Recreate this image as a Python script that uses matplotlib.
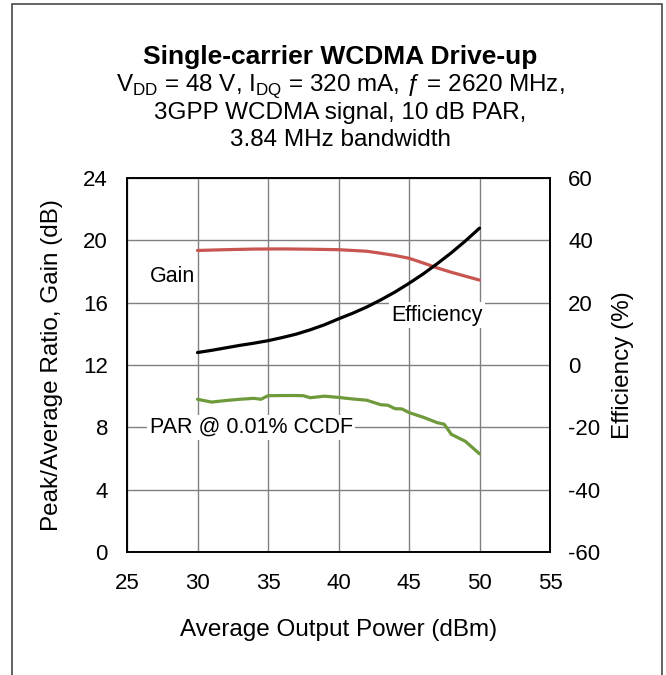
import numpy as np
import matplotlib.pyplot as plt
from matplotlib.patches import Rectangle

plt.rcParams['font.family'] = ['Liberation Sans', 'DejaVu Sans']
plt.rcParams['mathtext.fontset'] = 'custom'
plt.rcParams['mathtext.rm'] = 'Liberation Sans'
plt.rcParams['axes.unicode_minus'] = False

# Gain (dB) vs average output power (dBm)
gain_x = [30, 32, 34, 36, 38, 40, 41, 42, 43, 44, 45, 46, 47, 48, 49, 50]
gain_y = [19.35, 19.4, 19.44, 19.45, 19.43, 19.4, 19.35, 19.3, 19.17, 19.03, 18.85, 18.55,
          18.23, 17.95, 17.7, 17.45]

# Efficiency (%) on the right axis
eff_x = [30, 31, 32, 33, 34, 35, 36, 37, 38, 39, 40, 41, 42, 43, 44, 45, 46, 47, 48, 49, 50]
eff_y = [4.0, 4.7, 5.5, 6.3, 7.0, 7.8, 8.8, 9.9, 11.3, 12.9, 14.8, 16.6, 18.6, 20.9, 23.4,
         26.2, 29.2, 32.5, 36.0, 39.8, 43.9]

# PAR @ 0.01% CCDF (dB)
par_x = [30, 31, 32, 33, 34, 34.5, 35, 36, 37, 37.5, 38, 39, 40, 41, 42, 43, 43.5, 44, 44.5,
         45, 46, 47, 47.5, 48, 49, 50]
par_y = [9.8, 9.62, 9.72, 9.8, 9.86, 9.8, 10.03, 10.04, 10.04, 10.03, 9.9, 10.0, 9.92, 9.82,
         9.74, 9.45, 9.42, 9.2, 9.18, 8.95, 8.65, 8.3, 8.2, 7.55, 7.1, 6.3]

fig = plt.figure(figsize=(6.66, 6.75), dpi=100)
ax = fig.add_axes([127 / 666, 1 - 552 / 675, 423 / 666, 374 / 675])
ax2 = ax.twinx()

ax.set_xlim(25, 55)
ax.set_ylim(0, 24)
ax.set_xticks(np.arange(25, 56, 5))
ax.set_yticks(np.arange(0, 25, 4))
ax2.set_ylim(-60, 60)
ax2.set_yticks(np.arange(-60, 61, 20))

ax.grid(True, color='#808080', linewidth=1.0)
ax.tick_params(axis='y', length=0, labelsize=16, pad=13.7)
ax.tick_params(axis='x', length=0, labelsize=16, pad=15)
ax2.tick_params(length=0, labelsize=16, pad=13)
for a in (ax, ax2):
    for s in a.spines.values():
        s.set_color('black')
        s.set_linewidth(1.2)

ax.plot(gain_x, gain_y, color='#c85550', linewidth=2.3, solid_capstyle='round')
ax.plot(par_x, par_y, color='#6e9a3c', linewidth=2.3, solid_capstyle='round')
ax2.plot(eff_x, eff_y, color='black', linewidth=2.3, solid_capstyle='round')

box = dict(facecolor='white', edgecolor='none', pad=1.5)
ax.text(28.2, 17.67, 'Gain', fontsize=15.5, ha='center', va='center', bbox=box)
ax.text(47.0, 15.2, 'Efficiency', fontsize=15.5, ha='center', va='center', bbox=box)
ax.text(26.6, 8.0, 'PAR @ 0.01% CCDF', fontsize=15.5, ha='left', va='center', bbox=box)

ax.set_xlabel('Average Output Power (dBm)', fontsize=17.5, va='center')
ax.xaxis.set_label_coords(0.5, -0.209)
ax.set_ylabel('Peak/Average Ratio, Gain (dB)', fontsize=17.5, va='center')
ax.yaxis.set_label_coords(-0.177, 0.5)
ax2.set_ylabel('Efficiency (%)', fontsize=17.5, va='center')
ax2.yaxis.set_label_coords(1.173, 0.5)

cx = 340 / 666
fig.text(cx, 1 - 57 / 675, 'Single-carrier WCDMA Drive-up', fontsize=19, fontweight='bold',
         ha='center', va='center')
fig.text(cx, 1 - 86 / 675,
         r'V$_{\mathregular{DD}}$ = 48 V, I$_{\mathregular{DQ}}$ = 320 mA, ƒ = 2620 MHz,',
         fontsize=17.5, ha='center', va='center')
fig.text(cx, 1 - 113 / 675, '3GPP WCDMA signal, 10 dB PAR,', fontsize=17.5,
         ha='center', va='center')
fig.text(cx, 1 - 140 / 675, '3.84 MHz bandwidth', fontsize=17.5, ha='center', va='center')

fig.patches.append(Rectangle((12 / 666, -0.05), 650 / 666, 1.05 - 4 / 675,
                             transform=fig.transFigure, fill=False,
                             edgecolor='#484848', linewidth=1.2))

fig.savefig('out.png', dpi=100)
